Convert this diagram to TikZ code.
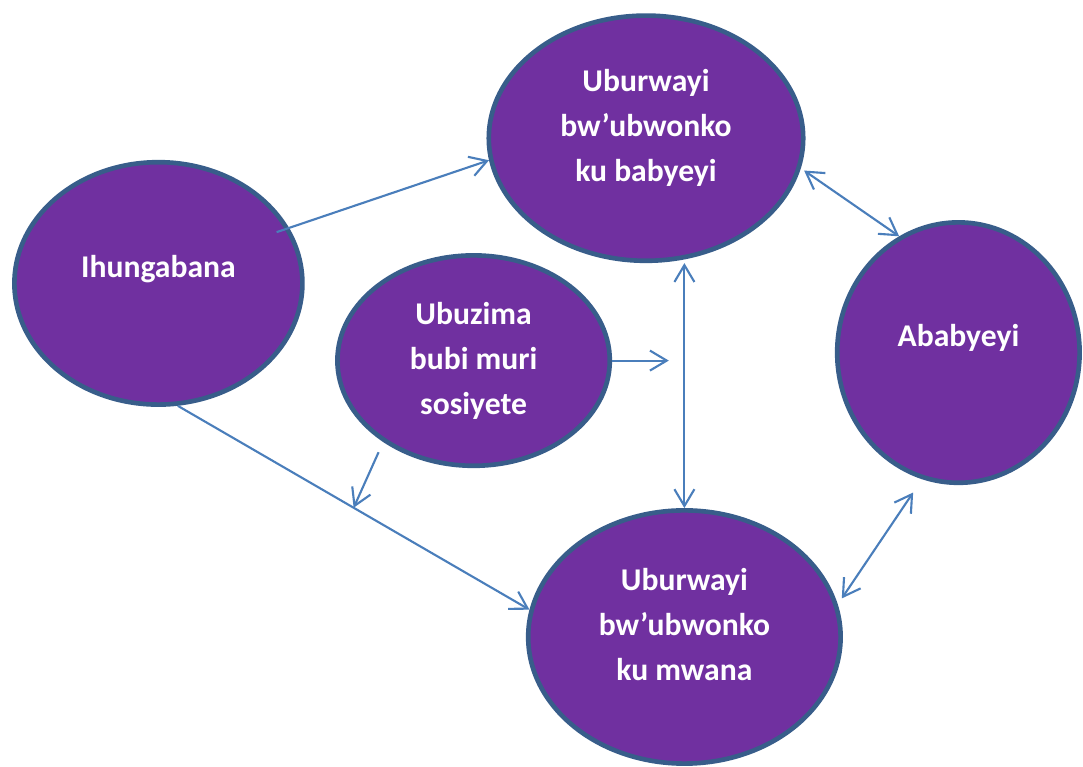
\documentclass[tikz,border=0pt]{standalone}
\usepackage{fontspec}
\setmainfont{Carlito}
\usetikzlibrary{arrows.meta,shapes.geometric}
\definecolor{bubblefill}{HTML}{7030A0}
\definecolor{bubbleedge}{HTML}{385D8A}
\definecolor{linkblue}{HTML}{4A7EBB}
\newcommand{\lowgap}[1]{\rule[-#1]{0pt}{0pt}}

\begin{document}
\begin{tikzpicture}[
  bubble/.style={ellipse, draw=bubbleedge, fill=bubblefill, line width=3.3pt, text=white, font=\fontsize{22.5}{32}\selectfont\bfseries, align=center},
  link/.style={draw=linkblue, line width=1.5pt, -{Straight Barb[length=0.42cm,width=0.5cm]}},
  twoway/.style={link, {Straight Barb[length=0.42cm,width=0.5cm]}-{Straight Barb[length=0.42cm,width=0.5cm]}}]
\useasboundingbox (0,0) rectangle (27.075,19.175);
\node[bubble, minimum width=7.2cm, minimum height=6.06cm] (ihung) at (3.96, 12.09) {Ihungabana\lowgap{0.84cm}};
\node[bubble, minimum width=7.86cm, minimum height=6.13cm] (ubA) at (16.15, 15.72) {Uburwayi\\bw’ubwonko\\ku babyeyi\lowgap{0.65cm}};
\node[bubble, minimum width=6.81cm, minimum height=5.26cm] (ubuz) at (11.84, 10.16) {Ubuzima\\bubi muri\\sosiyete};
\node[bubble, minimum width=6.06cm, minimum height=6.51cm] (abab) at (23.96, 10.36) {Ababyeyi\lowgap{0.84cm}};
\node[bubble, minimum width=7.81cm, minimum height=6.33cm] (ubB) at (17.11, 3.25) {Uburwayi\\bw’ubwonko\\ku mwana\lowgap{0.62cm}};
\coordinate (ubuzend) at (16.72, 10.16);
\draw[link, shorten <=-0.33cm] (ihung.23) -- (ubA.188);
\draw[link] (ihung.279) -- coordinate[midway] (cross) (ubB.170);
\draw[link, shorten <=0.28cm] (ubuz.222) -- (cross);
\draw[link] (ubuz.east) -- (ubuzend);
\draw[twoway] (ubB.north |- ubA.south) -- (ubB.north);
\draw[twoway, shorten <=0.1cm] (ubA.349) -- (abab.117);
\draw[twoway, shorten <=0.4cm, shorten >=0.18cm] (abab.254) -- (ubB.12);
\end{tikzpicture}
\end{document}
